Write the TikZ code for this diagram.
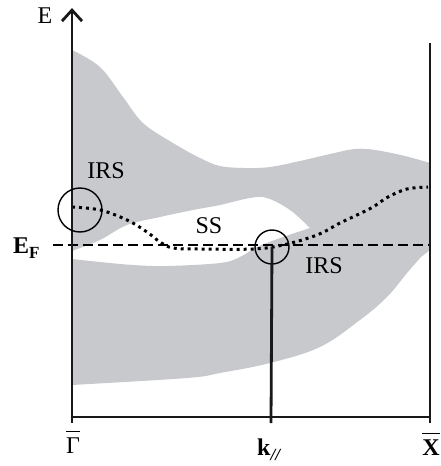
\documentclass[tikz,border=0pt]{standalone}
\usepackage{fontspec}
\setmainfont{Liberation Serif}
\usetikzlibrary{arrows.meta}
\definecolor{bandgray}{RGB}{200,201,204}
% letter with a bar over it
\newcommand{\barletter}[1]{{\setbox0\hbox{#1}\rlap{\raisebox{\dimexpr\ht0+5pt\relax}{\rule{\wd0}{1.3pt}}}\box0}}
% bold lowered index
\newcommand{\lowidx}[1]{\raisebox{-5pt}{\fontsize{17}{20}\selectfont\bfseries #1}}

\begin{document}
\begin{tikzpicture}[x=1pt, y=-1pt,
		axis/.style={line width=2.8pt, black!90},
		ring/.style={draw, circle, line width=1.4pt, inner sep=0pt},
		lbl/.style={inner sep=0pt, anchor=base, font=\fontsize{24}{28}\selectfont}]
			\useasboundingbox (0, 0) rectangle (440, 466);
			% bands
			\fill[bandgray] plot[smooth, tension=0.6] coordinates {(72, 50) (100, 67) (123, 97) (143, 123) (173, 143) (200, 158) (220, 166) (245, 168) (270, 167) (300, 161) (330, 154) (355, 149) (375, 150) (405, 156) (430, 163)}
				-- (430, 250) -- (421, 257)
				-- plot[smooth, tension=0.6] coordinates {(421, 257) (407, 273) (387, 297) (360, 320) (320, 347) (270, 363) (220, 373) (187, 378) (72, 385)}
				-- (72, 259)
				-- plot[smooth, tension=0.6] coordinates {(72, 259) (100, 262) (133, 265) (167, 266) (220, 263) (240, 257) (257, 247) (283, 237) (310, 228)}
				-- plot[smooth, tension=0.6] coordinates {(310, 228) (290, 210) (267, 198) (250, 198) (220, 205) (193, 210) (160, 217) (127, 225) (100, 240) (72, 251)}
				-- cycle;
			% surface state
			\draw[line width=3pt, dash pattern={on 3pt off 4pt}] plot[smooth, tension=0.6] coordinates {(72, 207) (100, 210) (127, 220) (147, 232) (160, 242) (173, 248) (200, 249) (253, 249) (283, 245) (317, 235) (340, 223) (357, 215) (373, 207) (388, 197) (407, 189) (428, 187)};
			% axes
			\coordinate (Gbot) at (72, 423);
			\coordinate (Etop) at (72, 8);
			\coordinate (Gax) at (72, 417);
			\coordinate (Xax) at (430, 417);
			\coordinate (Xbot) at (430, 423);
			\coordinate (Xtop) at (430, 43);
			\coordinate (EFl) at (53, 245);
			\coordinate (EFr) at (430, 245);
			\coordinate (kbot) at (271, 423);
			\draw[line width=2.5pt, dash pattern={on 10pt off 5pt}] (EFl) -- (EFr);
			\draw[axis, -{Straight Barb[length=11pt, width=20pt]}] (Gbot) -- (Etop);
			\draw[axis] (Gax) -- (Xax);
			\draw[axis] (Xbot) -- (Xtop);
			\node[ring, minimum size=44pt] (c1) at (80, 210){};
			\node[ring, minimum size=34pt] (c2) at (272, 247){};
			\draw[axis] (c2.center) -- (kbot);
			% labels
			\node[lbl] (E) at (45, 23){E};
			\node[lbl, anchor=base west] (EF) at (13, 253){\textbf{E}\lowidx{F}};
			\node[lbl] (irs1) at (106, 178){IRS};
			\node[lbl] (ss) at (209, 233){SS};
			\node[lbl] (irs2) at (324, 273){IRS};
			\node[lbl] (gam) at (73, 453){\barletter{Γ}};
			\node[lbl, anchor=base west] (kpar) at (257, 455){\textbf{k}\lowidx{\itshape //}};
			\node[lbl] (xpt) at (431, 455){\barletter{\bfseries X}};
		\end{tikzpicture}
\end{document}
